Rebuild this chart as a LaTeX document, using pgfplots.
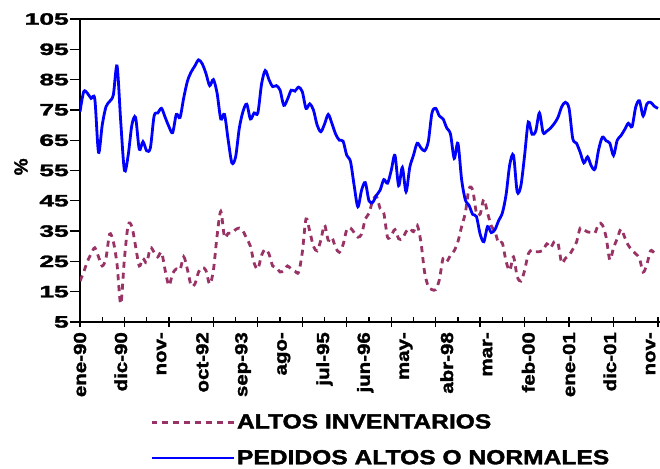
\documentclass[border=0pt]{standalone}
\usepackage{fontspec}
\setmainfont[BoldFeatures={FakeBold=1.6}]{Liberation Sans}
\usepackage{graphicx}
\usepackage{pgfplots}
\pgfplotsset{compat=1.18}

\definecolor{inv}{RGB}{153,51,102}
\definecolor{ped}{RGB}{0,0,255}

% monthly series, 0 = ene-90
\pgfplotstableread{
m v
0 18.5
1 21.5
2 25
3 27.5
4 29.5
5 26.5
6 23.5
7 26
8 34
9 31.5
10 24
11 11
12 26
13 37
14 36.5
15 30
16 23.5
17 26
18 24.5
19 29.5
20 28
21 26.5
22 28
23 22
24 17
25 21
26 22.5
27 22.2
28 26.5
29 22.3
30 17
31 17.5
32 21.5
33 23
34 22
35 17.5
36 22
37 33.5
38 41.5
39 33
40 34.3
41 34.3
42 35.5
43 36
44 35
45 32.5
46 30
47 24.5
48 22.5
49 27
50 29
51 27.5
52 23.5
53 23
54 21.5
55 22
56 23.5
57 22.5
58 21.8
59 21.4
60 28
61 39
62 35
63 30
64 28.5
65 32
66 37
67 32
68 32.9
69 29.5
70 28
71 30.5
72 35.5
73 36
74 34.5
75 33
76 34
77 39
78 40.9
79 45
80 46.5
81 42.5
82 40.9
83 33
84 33.5
85 35.5
86 32.5
87 32.5
88 34.8
89 35.9
90 34.8
91 37
92 31.5
93 21.5
94 16.7
95 15.7
96 15.7
97 19
98 26
99 25
100 27
101 28.5
102 31.5
103 36.5
104 41
105 49
106 48.5
107 41
108 40.6
109 45.5
110 41
111 36.7
112 34.8
113 31
114 31
115 25
116 22
117 26.5
118 20
119 18.5
120 22
121 27.5
122 28.8
123 28.2
124 28.2
125 28.6
126 30.8
127 29.5
128 31.5
129 31
130 24.5
131 26
132 27
133 29
134 31.3
135 36
136 35.5
137 34.7
138 34.6
139 34.4
140 37.5
141 37
142 33
143 25.5
144 29.5
145 32.5
146 35.7
147 33
148 30.3
149 28.7
150 27.5
151 26
152 21.5
153 24
154 28.5
155 27.8
156 27
}\inventarios

\pgfplotstableread{
m v
0 74.4
1 81
2 80.5
3 78.8
4 78.5
5 61
6 70
7 76
8 77.8
9 80
10 89.5
11 71
12 55
13 60
14 70
15 72.5
16 62
17 64.5
18 61.5
19 62.5
20 73
21 74
22 75.5
23 72.5
24 69.5
25 67.5
26 73.5
27 72.5
28 79
29 84.5
30 87.5
31 89.5
32 91.5
33 90.2
34 87
35 83
36 85
37 80.5
38 72
39 73.5
40 65
41 57.5
42 59.5
43 69
44 74.5
45 76.9
46 72
47 74
48 74
49 83.5
50 88
51 85
52 82.7
53 83
54 81.5
55 76.5
56 78.5
57 81.5
58 81.2
59 82.5
60 81
61 75.5
62 77
63 75
64 70
65 67.8
66 70.3
67 73.5
68 70.5
69 67
70 65
71 64.7
72 60
73 58
74 50
75 43
76 48.5
77 51
78 45
79 44.5
80 46.8
81 48.5
82 52
83 50.8
84 55
85 60
86 50
87 56
88 48
89 56
90 60
91 64
92 62.5
93 61.5
94 64.5
95 74
96 75.5
97 73
98 72
99 69
100 67
101 59
102 64
103 52
104 45.3
105 43.5
106 40.5
107 39.8
108 34
109 31.5
110 36.5
111 34.5
112 35.5
113 38.5
114 41
115 47
116 57
117 60
118 48
119 50
120 60
121 71
122 67
123 68
124 74
125 67.5
126 68
127 69
128 70.5
129 72.5
130 76
131 77.5
132 75.5
133 65.5
134 64
135 61
136 57.5
137 59.5
138 56.5
139 55.5
140 62
141 66
142 64.8
143 64
144 60
145 65
146 66.5
147 68.5
148 70.6
149 69.5
150 76
151 78
152 73
153 77
154 77.5
155 76.2
156 75.5
}\pedidos

\newcommand{\xl}[1]{\scalebox{1.17}[1]{#1}}

\begin{document}
\begin{tikzpicture}
\useasboundingbox (0,0) rectangle (660pt,468pt);
\begin{axis}[
    at={(80pt,146pt)}, anchor=south west,
    scale only axis, width=581.5pt, height=303pt,
    xmin=0, xmax=156.95, ymin=5, ymax=105,
    axis line style={line width=2.5pt, black},
    tick pos=left,
    xtick={0,12,...,156}, xticklabels={},
    minor xtick={6,18,...,150},
    xtick align=center, ytick align=outside,
    major tick length=10pt, minor tick length=5pt,
    tick style={line width=1.3pt, black},
    every minor tick/.append style={yshift=2.5pt},
    extra x ticks={0,11,...,154},
    extra x tick labels={\xl{ene-90},\xl{dic-90},\xl{nov-},\xl{oct-92},\xl{sep-93},\xl{ago-},\xl{jul-95},\xl{jun-96},\xl{may-},\xl{abr-98},\xl{mar-},\xl{feb-00},\xl{ene-01},\xl{dic-01},\xl{nov-}},
    extra x tick style={major tick length=0pt, tick style={draw=none}},
    x tick label style={rotate=90, anchor=east, font=\fontsize{17.5}{17.5}\selectfont\bfseries, inner sep=1pt, xshift=-9pt},
    ytick={5,15,...,105},
    /pgf/number format/assume math mode=true,
    yticklabel={\scalebox{1.6}[1]{\pgfmathprintnumber{\tick}}},
    y tick label style={font=\fontsize{16.5}{16.5}\selectfont\bfseries, inner sep=1pt},
    ylabel={\%},
    ylabel style={at={(axis description cs:-0.1015,0.512)}, anchor=center, font=\fontsize{19}{19}\selectfont\bfseries},
    legend cell align=left,
    legend image code/.code={\draw[#1, dash phase=1pt] (0pt,0pt) -- (82pt,0pt);},
    legend style={draw=none, fill=none, at={(axis description cs:0.1204,-0.3895)}, anchor=west,
        font=\fontsize{20.5}{20.5}\selectfont\bfseries, row sep=16pt, inner sep=0pt},
]
\addplot[inv, line width=2.8pt, dash pattern=on 6pt off 5pt, smooth] table[x=m, y=v] {\inventarios};
\addlegendentry{\scalebox{1.2}[1]{ALTOS INVENTARIOS}}
\addplot[ped, line width=2.8pt, smooth] table[x=m, y=v] {\pedidos};
\addlegendentry{\scalebox{1.2}[1]{PEDIDOS ALTOS O NORMALES}}
\end{axis}
\end{tikzpicture}
\end{document}
